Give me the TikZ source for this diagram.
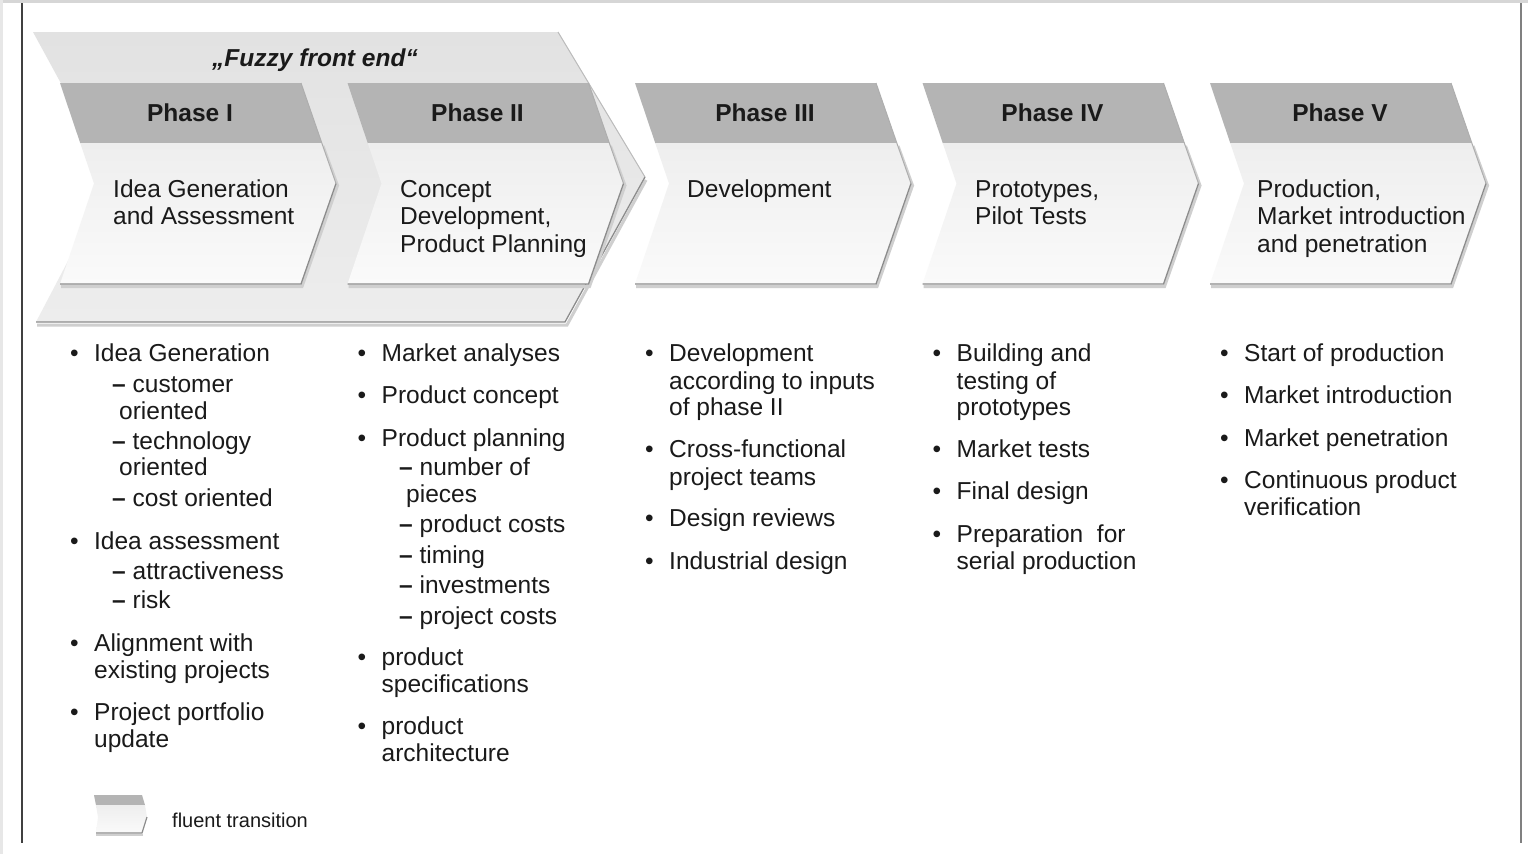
\documentclass[tikz,border=0pt]{standalone}
\usepackage{fontspec}
\setmainfont{Liberation Sans}
\definecolor{hdrgray}{HTML}{B4B4B4}
\definecolor{bodytop}{HTML}{EEEEEE}
\definecolor{bodybot}{HTML}{FAFAFA}
\definecolor{fztop}{HTML}{E2E2E2}
\definecolor{fzbot}{HTML}{EDEDED}
\definecolor{edgegray}{HTML}{8C8C8C}
\definecolor{softgray}{HTML}{CFCFCF}
\definecolor{txt}{HTML}{1A1A1A}
\definecolor{framegray}{HTML}{D6D6D6}
\newcommand\bul{\llap{\makebox[24pt][l]{•}}}
\newcommand\dsh{{\bfseries –}}
\newcommand\phasechev[1]{%
  \draw[softgray, line width=3] (#1+263,146) -- (#1+277.5,185.5) -- (#1+242,286.5) -- (#1+1,286.5);
  \fill[hdrgray] (#1,83) -- (#1+241,83) -- (#1+261.8,143) -- (#1+20.2,143) -- cycle;
  \shade[top color=bodytop, bottom color=bodybot] (#1+20.2,143) -- (#1+261.8,143) -- (#1+276,183.5) -- (#1+241,284) -- (#1,284) -- (#1+34,183.5) -- cycle;
  \draw[edgegray!70, line width=1] (#1+241,83) -- (#1+261.8,143) -- (#1+276,183.5);
  \draw[edgegray, line width=1.3] (#1+276,183.5) -- (#1+241,284) -- (#1,284);
}
\tikzset{
  lst/.style={anchor=base west, inner sep=0pt, text=txt, font=\fontsize{24.5}{27}\selectfont},
  hdr/.style={anchor=base, inner sep=0pt, text=txt, font=\fontsize{24.5}{27}\selectfont\bfseries},
  fzs/.style={anchor=base, inner sep=0pt, text=txt, font=\fontsize{24.5}{27}\selectfont\bfseries\itshape},
  lgd/.style={anchor=base west, inner sep=0pt, text=txt, font=\fontsize{20}{24}\selectfont}
}
\begin{document}
\begin{tikzpicture}[x=1pt,y=-1pt]
\useasboundingbox (0,0) rectangle (1528,854);
\fill[white] (0,0) rectangle (1528,854);
% frame
\fill[framegray] (0,0) rectangle (1528,3);
\fill[framegray!60] (0,0) rectangle (2.5,854);
\draw[black!75, line width=1.5] (22,3) -- (22,843);
\draw[black!50, line width=2] (1521,3) -- (1521,843);

% fuzzy front end
\draw[softgray, line width=3] (646,180) -- (567,325) -- (37,325);
\shade[top color=fztop, bottom color=fzbot] (33,32) -- (558,32) -- (645,177) -- (565,322) -- (36,322) -- (112,177) -- cycle;
\draw[edgegray!60, line width=1] (558,32) -- (645,177);
\draw[edgegray, line width=1.3] (645,177) -- (565,322) -- (36,322);
\node[fzs] (fz) at (315,66) {„Fuzzy front end“};

% phases
\phasechev{60}
\phasechev{347.5}
\phasechev{635}
\phasechev{922.5}
\phasechev{1210}

\node[hdr] (h1) at (190,121) {Phase I};
\node[hdr] (h2) at (477.5,121) {Phase II};
\node[hdr] (h3) at (765,121) {Phase III};
\node[hdr] (h4) at (1052.5,121) {Phase IV};
\node[hdr] (h5) at (1340,121) {Phase V};

\node[lst] (b1a) at (113,197) {Idea Generation};
\node[lst] (b1b) at (113,224) {and Assessment};
\node[lst] (b2a) at (400,197) {Concept};
\node[lst] (b2b) at (400,224) {Development,};
\node[lst] (b2c) at (400,252) {Product Planning};
\node[lst] (b3a) at (687,197) {Development};
\node[lst] (b4a) at (975,197) {Prototypes,};
\node[lst] (b4b) at (975,224) {Pilot Tests};
\node[lst] (b5a) at (1257,197) {Production,};
\node[lst] (b5b) at (1257,224) {Market introduction};
\node[lst] (b5c) at (1257,252) {and penetration};

% column 1
\node[lst] (c1a) at (94,361) {\bul Idea Generation};
\node[lst] (c1b) at (112,392) {\dsh{} customer};
\node[lst] (c1c) at (119,419) {oriented};
\node[lst] (c1d) at (112,449) {\dsh{} technology};
\node[lst] (c1e) at (119,475) {oriented};
\node[lst] (c1f) at (112,506) {\dsh{} cost oriented};
\node[lst] (c1g) at (94,549) {\bul Idea assessment};
\node[lst] (c1h) at (112,579) {\dsh{} attractiveness};
\node[lst] (c1i) at (112,608) {\dsh{} risk};
\node[lst] (c1j) at (94,651) {\bul Alignment with};
\node[lst] (c1k) at (94,678) {existing projects};
\node[lst] (c1l) at (94,720) {\bul Project portfolio};
\node[lst] (c1m) at (94,747) {update};

% column 2
\node[lst] (c2a) at (381.5,361) {\bul Market analyses};
\node[lst] (c2b) at (381.5,403) {\bul Product concept};
\node[lst] (c2c) at (381.5,446) {\bul Product planning};
\node[lst] (c2d) at (399,475) {\dsh{} number of};
\node[lst] (c2e) at (406,502) {pieces};
\node[lst] (c2f) at (399,532) {\dsh{} product costs};
\node[lst] (c2g) at (399,563) {\dsh{} timing};
\node[lst] (c2h) at (399,593) {\dsh{} investments};
\node[lst] (c2i) at (399,624) {\dsh{} project costs};
\node[lst] (c2j) at (381.5,665) {\bul product};
\node[lst] (c2k) at (381.5,692) {specifications};
\node[lst] (c2l) at (381.5,734) {\bul product};
\node[lst] (c2m) at (381.5,761) {architecture};

% column 3
\node[lst] (c3a) at (669,361) {\bul Development};
\node[lst] (c3b) at (669,389) {according to inputs};
\node[lst] (c3c) at (669,415) {of phase II};
\node[lst] (c3d) at (669,457) {\bul Cross-functional};
\node[lst] (c3e) at (669,485) {project teams};
\node[lst] (c3f) at (669,526) {\bul Design reviews};
\node[lst] (c3g) at (669,569) {\bul Industrial design};

% column 4
\node[lst] (c4a) at (956.5,361) {\bul Building and};
\node[lst] (c4b) at (956.5,389) {testing of};
\node[lst] (c4c) at (956.5,415) {prototypes};
\node[lst] (c4d) at (956.5,457) {\bul Market tests};
\node[lst] (c4e) at (956.5,499) {\bul Final design};
\node[lst] (c4f) at (956.5,542) {\bul Preparation\ \ for};
\node[lst] (c4g) at (956.5,569) {serial production};

% column 5
\node[lst] (c5a) at (1244,361) {\bul Start of production};
\node[lst] (c5b) at (1244,403) {\bul Market introduction};
\node[lst] (c5c) at (1244,446) {\bul Market penetration};
\node[lst] (c5d) at (1244,488) {\bul Continuous product};
\node[lst] (c5e) at (1244,515) {verification};

% legend
\draw[softgray, line width=2] (143,835) -- (96,835);
\fill[hdrgray] (94,795) -- (142,795) -- (145,805) -- (96,805) -- cycle;
\shade[top color=bodytop, bottom color=bodybot] (96,805) -- (145,805) -- (147,817) -- (142,833) -- (96,833) -- (98,817) -- cycle;
\draw[edgegray, line width=1.2] (147,817) -- (142,833) -- (96,833);
\node[lgd] (lg) at (172,827) {fluent transition};
\end{tikzpicture}
\end{document}
